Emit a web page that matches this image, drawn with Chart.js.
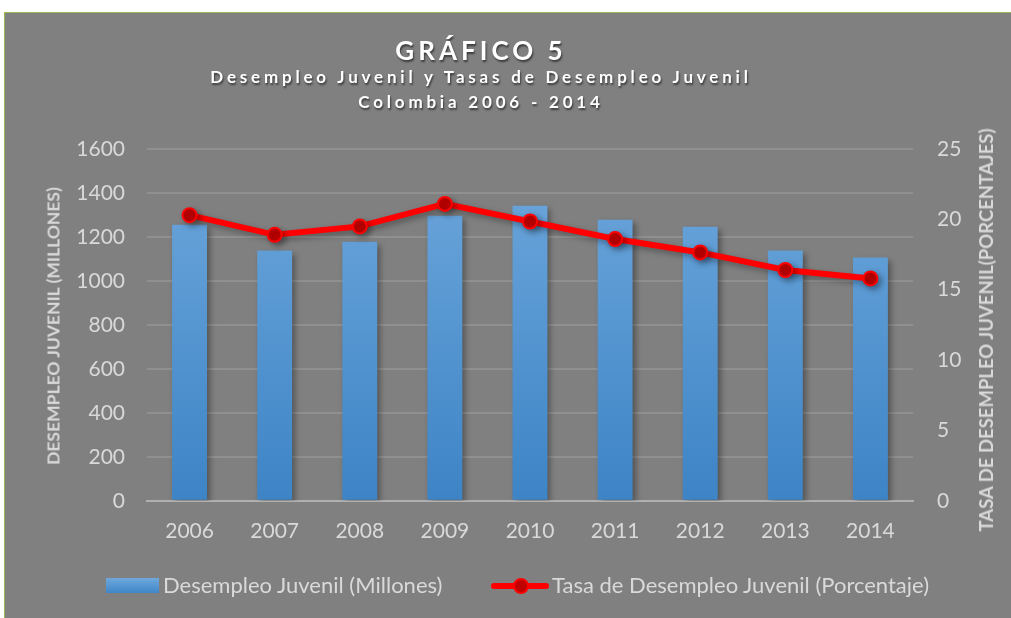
<!DOCTYPE html>
<html>
<head>
<meta charset="utf-8">
<script src="https://cdn.jsdelivr.net/npm/chart.js@4/dist/chart.umd.min.js"></script>
<style>
  html, body { margin: 0; padding: 0; background: #ffffff; }
  body { width: 1011px; height: 618px; position: relative; overflow: hidden; font-family: Lato, "Open Sans", sans-serif; }
  #panel { position: absolute; left: 4px; top: 12px; width: 1006px; height: 606px; background: #808080; border-left: 1px solid #9bbb59; border-top: 1px solid #9bbb59; }
  #chart { position: absolute; left: 0; top: 0; }
  .title { position: absolute; left: 0; width: 952px; text-align: center; color: #fff; font-weight: bold; text-shadow: 1px 2px 2px rgba(0,0,0,0.55); white-space: nowrap; }
  #t1 { top: 21px; font-size: 26px; letter-spacing: 4px; }
  #t2 { top: 53px; font-size: 17px; letter-spacing: 3.8px; }
  #t3 { top: 78px; font-size: 17px; letter-spacing: 3.8px; }
  .axt { position: absolute; color: #d9d9d9; font-weight: bold; font-size: 17.5px; white-space: nowrap; transform: translate(-50%, -50%) rotate(-90deg); }
  .leg { position: absolute; top: 559px; color: #d9d9d9; font-size: 22px; line-height: 26px; white-space: nowrap; }
  #swBar { position: absolute; left: 101px; top: 565px; width: 53px; height: 15px; background: linear-gradient(#6fa8dc, #3f86c8); }
  #swLine { position: absolute; left: 486px; top: 563px; width: 58px; height: 20px; }
  #swLine .ln { position: absolute; left: 0; top: 7px; width: 58px; height: 6px; background: #ff0000; border-radius: 3px; }
  #swLine .pt { position: absolute; left: 22px; top: 2px; width: 12px; height: 12px; border-radius: 50%; background: #c00000; border: 2px solid #ff0000; }
</style>
</head>
<body>
<div id="panel">
  <canvas id="chart" width="1006" height="606"></canvas>
  <div class="title" id="t1">GRÁFICO 5</div>
  <div class="title" id="t2">Desempleo Juvenil y Tasas de Desempleo Juvenil</div>
  <div class="title" id="t3">Colombia 2006 - 2014</div>
  <div class="axt" style="left:48px; top:313px">DESEMPLEO JUVENIL (MILLONES)</div>
  <div class="axt" style="left:981px; top:317px; font-size:18.5px">TASA DE DESEMPLEO JUVENIL(PORCENTAJES)</div>
  <div id="swBar"></div>
  <div class="leg" style="left:158px">Desempleo Juvenil (Millones)</div>
  <div id="swLine"><div class="ln"></div><div class="pt"></div></div>
  <div class="leg" style="left:547px">Tasa de Desempleo Juvenil (Porcentaje)</div>
</div>
<script>
const years = ['2006', '2007', '2008', '2009', '2010', '2011', '2012', '2013', '2014'];
const desempleo = [1255, 1138, 1178, 1296, 1342, 1278, 1246, 1138, 1106];
const tasa = [20.3, 18.9, 19.5, 21.1, 19.85, 18.6, 17.65, 16.4, 15.8];
const leftTicks = { min: 0, max: 1600, step: 200 };
const rightTicks = { min: 0, max: 25, step: 5 };

const labelColor = '#d9d9d9';
const fontFamily = 'Lato, "Open Sans", sans-serif';

function barGradient(ctx) {
  const area = ctx.chart.chartArea;
  if (!area) return '#5b9bd5';
  const g = ctx.chart.ctx.createLinearGradient(0, area.top, 0, area.bottom);
  g.addColorStop(0, '#6fa8dc');
  g.addColorStop(1, '#3d84c6');
  return g;
}

// soft drop shadow under bars and line, like the original
const shadowPlugin = {
  id: 'shadow',
  beforeDatasetDraw(chart) {
    const c = chart.ctx;
    c.save();
    c.shadowColor = 'rgba(0,0,0,0.35)';
    c.shadowBlur = 6;
    c.shadowOffsetX = 3;
    c.shadowOffsetY = 3;
  },
  afterDatasetDraw(chart) {
    chart.ctx.restore();
  },
};

new Chart(document.getElementById('chart'), {
  type: 'bar',
  data: {
    labels: years,
    datasets: [
      {
        type: 'line',
        label: 'Tasa de Desempleo Juvenil (Porcentaje)',
        data: tasa,
        yAxisID: 'y1',
        borderColor: '#ff0000',
        borderWidth: 6,
        pointRadius: 7,
        pointBackgroundColor: '#c00000',
        pointBorderColor: '#ff0000',
        pointBorderWidth: 2,
        tension: 0,
        order: 0,
      },
      {
        label: 'Desempleo Juvenil (Millones)',
        data: desempleo,
        yAxisID: 'y',
        backgroundColor: barGradient,
        categoryPercentage: 1,
        barPercentage: 0.41,
        order: 1,
      },
    ],
  },
  options: {
    responsive: false,
    animation: false,
    layout: { padding: { left: 0, right: 0, top: 136, bottom: 57 } },
    plugins: { legend: { display: false }, tooltip: { enabled: false } },
    scales: {
      x: {
        grid: { display: false, drawTicks: false },
        border: { color: '#b0b0b0', width: 2 },
        ticks: { color: labelColor, font: { family: fontFamily, size: 21 }, padding: 18 },
      },
      y: {
        position: 'left',
        min: leftTicks.min,
        max: leftTicks.max,
        ticks: { stepSize: leftTicks.step, color: labelColor, font: { family: fontFamily, size: 21 }, padding: 22, callback: (v) => String(v) },
        grid: { color: 'rgba(255,255,255,0.13)', lineWidth: 2, drawTicks: false },
        border: { display: false },
        afterFit(scale) { scale.width = 142; },
      },
      y1: {
        position: 'right',
        min: rightTicks.min,
        max: rightTicks.max,
        ticks: { stepSize: rightTicks.step, color: labelColor, font: { family: fontFamily, size: 21 }, padding: 24 },
        grid: { display: false, drawTicks: false },
        border: { display: false },
        afterFit(scale) { scale.width = 98; },
      },
    },
  },
  plugins: [shadowPlugin],
});
</script>
</body>
</html>
